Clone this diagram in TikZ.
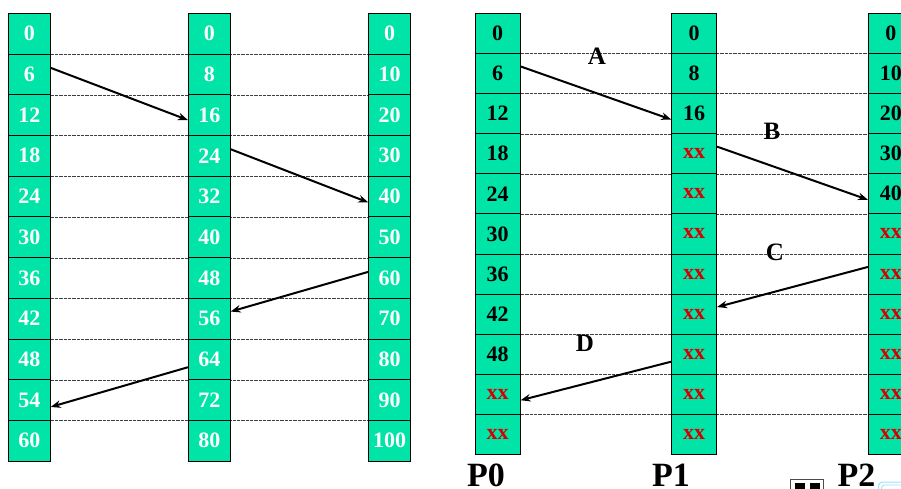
\documentclass[tikz,border=0pt]{standalone}
\usepackage{fontspec}
\setmainfont{Liberation Serif}
\usetikzlibrary{arrows.meta, positioning, backgrounds}
\definecolor{cellgreen}{RGB}{0, 228, 168}
\definecolor{xxred}{RGB}{215, 0, 0}

\begin{document}
\begin{tikzpicture}[x=1pt, y=-1pt,
        lcell/.style={rectangle, draw=black, line width=0.8pt, fill=cellgreen, minimum width=42pt, minimum height=40.7pt, inner sep=0pt, text=white, font=\fontsize{22}{22}\selectfont\bfseries},
        rcell/.style={lcell, minimum width=45pt, minimum height=40.1pt, text=black},
        guide/.style={black!75, line width=0.8pt, dash pattern=on 0.7pt off 0.6pt},
        arrow/.style={-{Stealth[length=10pt, width=7.5pt]}, line width=2pt},
        tag/.style={inner sep=0pt, font=\fontsize{25}{25}\selectfont\bfseries},
        proc/.style={anchor=base, inner sep=0pt, font=\fontsize{34}{34}\selectfont\bfseries}
    ]
    \useasboundingbox (0,0) rectangle (901,489);
    \clip (0,0) rectangle (901,489);

    % left half: the three sorted lists
    \foreach \col/\x/\step in {1/29.3/6, 2/209.3/8, 3/389.7/10} {
        \foreach \r in {0,...,10} {
            \pgfmathtruncatemacro{\v}{\r*\step}
            \node[lcell] (l\col-\r) at (\x, {33.65+40.7*\r}) {\v};
        }
    }

    % right half: P0..P2, xx = slot taken by another process
    \foreach \col/\x/\step/\last in {0/497.7/6/8, 1/694.2/8/2, 2/890.8/10/4} {
        \foreach \r in {0,...,10} {
            \pgfmathtruncatemacro{\v}{\r*\step}
            \ifnum\r>\last
                \node[rcell] (p\col-\r) at (\x, {33.35+40.1*\r}) {\textcolor{xxred}{xx}};
            \else
                \node[rcell] (p\col-\r) at (\x, {33.35+40.1*\r}) {\v};
            \fi
        }
    }

    % dotted row guides behind the columns
    \begin{scope}[on background layer]
        \foreach \r in {0,...,9} {
            \draw[guide] (l1-\r.south east) -- (l3-\r.south west);
            \draw[guide] (p0-\r.south east) -- (p2-\r.south west);
        }
    \end{scope}

    \draw[arrow] ([yshift=6.5pt]l1-1.east) -- ([yshift=-5pt]l2-2.west);
    \draw[arrow] ([yshift=6.5pt]l2-3.east) -- ([yshift=-6pt]l3-4.west);
    \draw[arrow] ([yshift=6pt]l3-6.west) -- ([yshift=7pt]l2-7.east);
    \draw[arrow] ([yshift=-8pt]l2-8.west) -- ([yshift=-7pt]l1-9.east);

    \draw[arrow] ([yshift=7pt]p0-1.east) -- ([yshift=-6pt]p1-2.west);
    \draw[arrow] ([yshift=7pt]p1-3.east) -- ([yshift=-6pt]p2-4.west);
    \draw[arrow] ([yshift=7pt]p2-6.west) -- ([yshift=7pt]p1-7.east);
    \draw[arrow] ([yshift=-7.5pt]p1-8.west) -- ([yshift=-6pt]p0-9.east);

    \node[tag] (ta) at (597,56) {A};
    \node[tag] (tb) at (772,131) {B};
    \node[tag] (tc) at (775,252) {C};
    \node[tag] (td) at (585,343) {D};

    \node[proc] (n0) at (486,486) {P0};
    \node[proc] (n1) at (671,486) {P1};
    \node[proc] (n2) at (856.5,486) {P2};

    % bits of toolbar icons at the lower edge
    \draw[gray!60!black, line width=0.6pt] (790,479.5) rectangle (823,495);
    \fill (795,482.5) rectangle (805,495);
    \fill (810,482.5) rectangle (820,495);
    \draw[blue!30!cyan!40, line width=1pt, rounded corners=4pt] (878.5,482) rectangle (915,500);
    \draw[blue!30!cyan!40, line width=0.8pt, rounded corners=3pt] (881.5,485) rectangle (915,500);
\end{tikzpicture}
\end{document}
